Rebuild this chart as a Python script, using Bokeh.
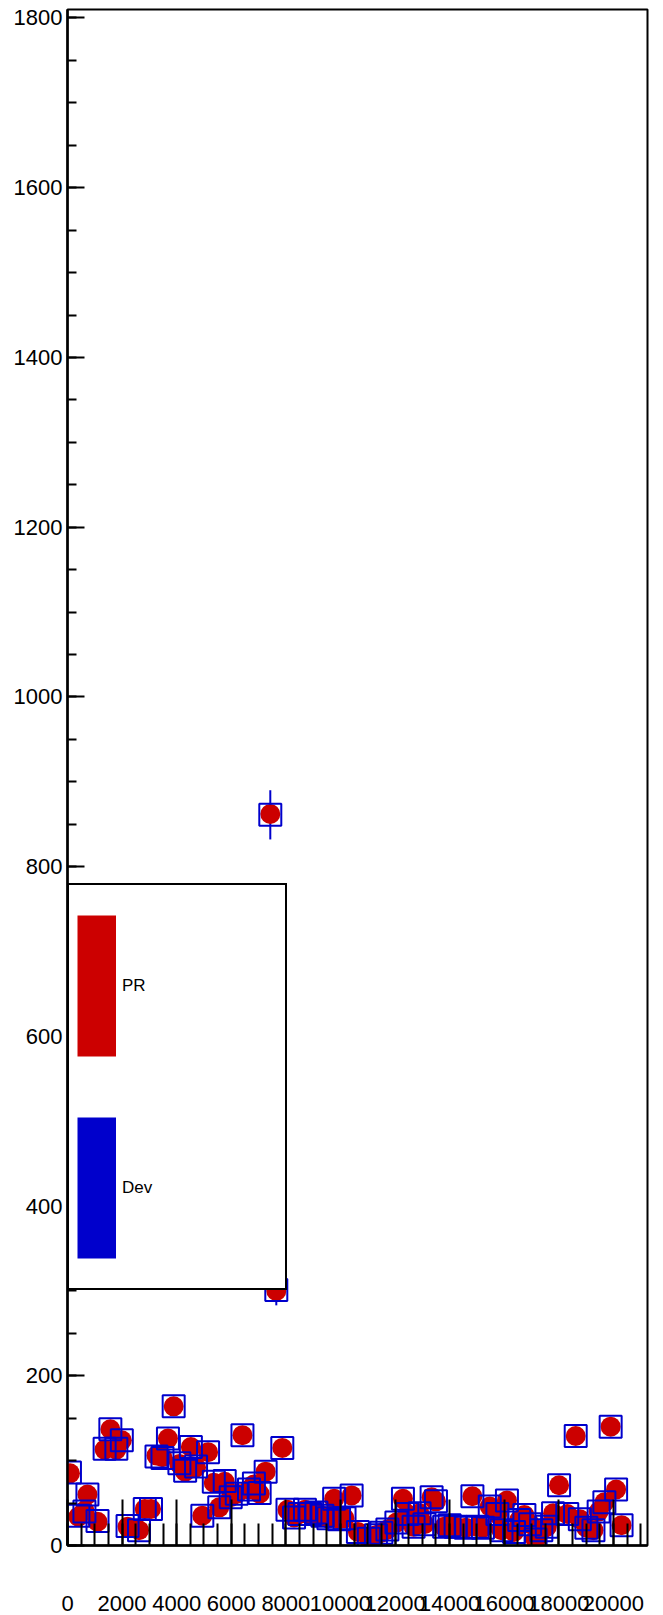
from bokeh.plotting import figure
from bokeh.models import Range1d, SingleIntervalTicker, Legend, LegendItem, ColumnDataSource
from bokeh.embed import file_html
from bokeh.resources import INLINE

# ---- data ----
run_x = [90, 400, 620, 730, 1100, 1360, 1570, 1790, 1990, 2200, 2620, 2830, 3060, 3260,
         3480, 3680, 3890, 4100, 4310, 4520, 4710, 4940, 5150, 5360, 5560, 5760, 5980,
         6200, 6410, 6650, 6830, 7040, 7260, 7430, 7650, 7870, 8060, 8300, 8500, 8700,
         8900, 9120, 9340, 9560, 9770, 9950, 10150, 10410, 10640, 11040, 11300, 11500,
         11720, 12050, 12290, 12450, 12680, 12900, 13080, 13340, 13500, 13800, 14000,
         14220, 14590, 14835, 15020, 15220, 15470, 15750, 15900, 16100, 16360, 16550,
         16740, 16950, 17150, 17360, 17560, 17790, 18010, 18310, 18620, 18770, 19010,
         19270, 19460, 19670, 19900, 20100, 20300]
pr_vals = [85, 34, 41, 60, 28, 113, 137, 113, 124, 22, 18, 43, 43, 106,
           104, 126, 164, 96, 87, 116, 92, 35, 110, 74, 45, 75, 57,
           61, 130, 66, 72, 61, 87, 862, 300, 115, 42, 33, 37, 42,
           37, 38, 35, 32, 55, 31, 32, 59, 16, 8, 12, 15,
           19, 27, 55, 37, 22, 38, 25, 57, 52, 22, 24,
           22, 21, 58, 22, 21, 46, 37, 18, 53, 16, 30,
           36, 25, 7, 18, 22, 38, 71, 37, 129, 31, 21,
           18, 40, 51, 140, 66, 24]
dev_vals = [86, 35, 40, 60, 29, 114, 137, 114, 124, 23, 18, 43, 43, 105,
            103, 126, 164, 97, 88, 116, 93, 35, 110, 75, 45, 76, 57,
            61, 130, 66, 73, 62, 87, 861, 301, 115, 42, 33, 37, 42,
            37, 39, 35, 32, 55, 31, 32, 59, 16, 8, 12, 15,
            19, 27, 55, 37, 22, 38, 25, 57, 52, 22, 24,
            22, 21, 58, 22, 21, 46, 37, 18, 53, 16, 30,
            36, 25, 7, 18, 22, 38, 71, 37, 129, 31, 21,
            18, 40, 51, 140, 66, 24]
err_x = [7430, 7650]
err_lo = [832, 283]
err_hi = [890, 318]

series_names = ["PR", "Dev"]
series_colors = ["#cc0000", "#0000cc"]

FONT = "Liberation Sans"

p = figure(frame_width=580, frame_height=1536,
           min_border_left=67, min_border_top=9, min_border_right=16, min_border_bottom=70,
           x_range=Range1d(0, 21250), y_range=Range1d(0, 1810),
           output_backend="svg", toolbar_location=None,
           background_fill_color="white", border_fill_color="white")

p.xgrid.visible = False
p.ygrid.visible = False
p.outline_line_color = "black"
p.outline_line_width = 2
p.outline_line_alpha = 1

p.xaxis.ticker = SingleIntervalTicker(interval=2000, num_minor_ticks=4)
p.yaxis.ticker = SingleIntervalTicker(interval=200, num_minor_ticks=4)

for ax in (p.xaxis[0], p.yaxis[0]):
    ax.axis_line_color = "black"
    ax.axis_line_width = 2.5
    ax.major_tick_line_color = "black"
    ax.minor_tick_line_color = "black"
    ax.major_tick_line_width = 2
    ax.minor_tick_line_width = 2
    ax.major_tick_out = 0
    ax.minor_tick_out = 0
    ax.major_label_text_font = FONT
    ax.major_label_text_font_size = "22px"
    ax.major_label_text_color = "black"

p.xaxis.major_tick_in = 46
p.xaxis.minor_tick_in = 22
p.xaxis.major_label_standoff = 50
p.yaxis.major_tick_in = 17
p.yaxis.minor_tick_in = 9
p.yaxis.major_label_standoff = 5

src = ColumnDataSource(dict(x=run_x, pr=pr_vals, dev=dev_vals))
esrc = ColumnDataSource(dict(x=err_x, lo=err_lo, hi=err_hi))

p.segment(x0="x", y0="lo", x1="x", y1="hi", source=esrc,
          line_color=series_colors[1], line_width=2)
p.scatter(x="x", y="pr", source=src, marker="circle", size=20,
          fill_color=series_colors[0], line_color=series_colors[0], line_width=0)
p.scatter(x="x", y="dev", source=src, marker="square", size=22,
          fill_color=None, line_color=series_colors[1], line_width=2)

# legend swatches (filled boxes): thick line glyphs that are never visible in the frame
leg_items = []
for name, col in zip(series_names, series_colors):
    r = p.line(x=[float("nan"), float("nan")], y=[float("nan"), float("nan")],
               line_color=col, line_width=141, line_cap="butt")
    leg_items.append(LegendItem(label=name, renderers=[r]))

legend = Legend(items=leg_items, location=(0, 255),
                orientation="vertical",
                glyph_width=39, glyph_height=185, spacing=17,
                padding=8, margin=0, label_standoff=6, label_width=155,
                label_text_font=FONT, label_text_font_size="17px",
                label_text_color="black",
                border_line_color="black", border_line_width=2, border_line_alpha=1,
                background_fill_color="white", background_fill_alpha=1)
p.add_layout(legend, "center")

open("out.html", "w").write(file_html(p, INLINE))
